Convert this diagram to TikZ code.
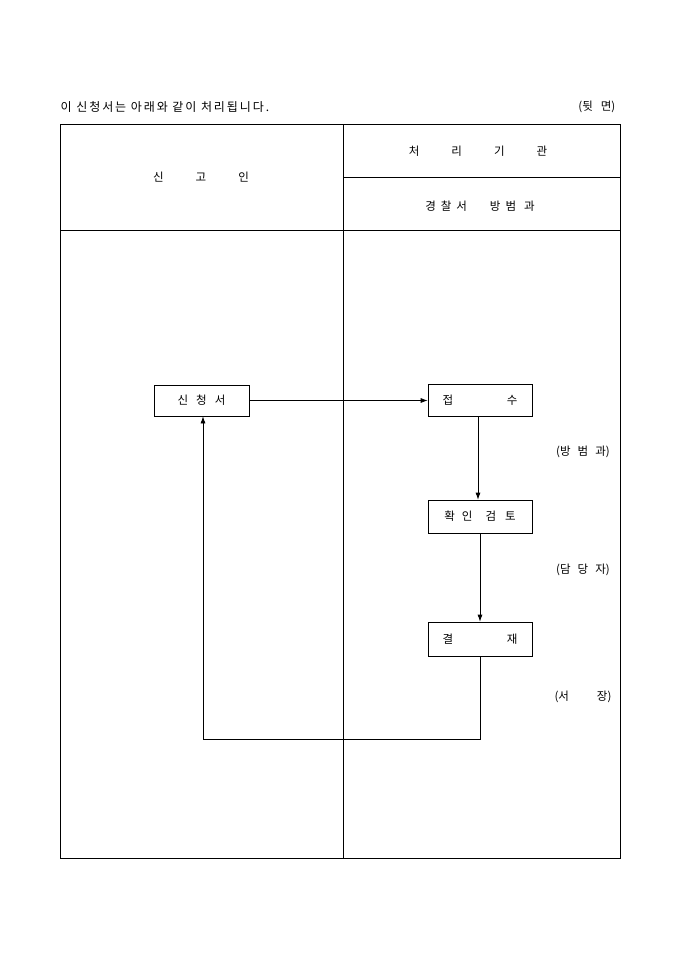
\documentclass[tikz,border=0pt]{standalone}
\usepackage{fontspec}
\setmainfont{Noto Sans CJK KR}
\newfontfamily\spaced[LetterSpace=16]{Noto Sans CJK KR}
\usetikzlibrary{arrows.meta}
\tikzset{
  box/.style={draw, minimum width=104pt, minimum height=32pt, inner sep=0pt},
  arr/.style={-{Latex[length=7pt,width=5pt]}}
}
\begin{document}
\begin{tikzpicture}[x=1pt, y=-1pt, line width=0.7pt, font=\fontsize{11.5}{13}\selectfont]
\useasboundingbox (0,0) rectangle (680,962);
% table
\draw (60,124) rectangle (620,858);
\draw (343,124) -- (343,858);
\draw (343,177) -- (620,177);
\draw (60,230) -- (620,230);
\node[anchor=west, font=\spaced\fontsize{12}{14}\selectfont] (title) at (57,107) {이 신청서는 아래와 같이 처리됩니다.};
\node[anchor=east] (side) at (619,107) {(뒷\hspace{8pt}면)};
\node (applicant) at (201,177) {신\hspace{32pt}고\hspace{32pt}인};
\node (office) at (478,151) {처\hspace{32pt}리\hspace{32pt}기\hspace{32pt}관};
\node (dept) at (480,206) {경\hspace{5pt}찰\hspace{5pt}서\hspace{23pt}방\hspace{5pt}범\hspace{8pt}과};
% flow
\node[box, minimum width=95pt, minimum height=31pt] (form) at (201.5,400.5) {신\hspace{8pt}청\hspace{8pt}서};
\node[box] (receive) at (480,400.5) {\begin{minipage}{75pt}접\hfill 수\end{minipage}};
\node[box, minimum height=33pt] (review) at (480,516.5) {확\hspace{7pt}인\hspace{13pt}검\hspace{9pt}토};
\node[box, minimum height=34pt] (approve) at (480,639) {\begin{minipage}{75pt}결\hfill 재\end{minipage}};
\node (l1) at (583,452) {(방\hspace{7pt}범\hspace{7pt}과)};
\node (l2) at (583,570) {(담\hspace{7pt}당\hspace{7pt}자)};
\node (l3) at (583,697) {(서\hspace{28pt}장)};
\draw[arr] (form.east) -- (receive.west);
\draw[arr] (receive.south) ++(-2,0) -- ([xshift=-2pt]review.north);
\draw[arr] (review.south) -- (approve.north);
\coordinate (turn) at (203,739);
\draw[arr] (approve.south) -- (approve.south |- turn) -- (turn) -- ([xshift=1.5pt]form.south);
\end{tikzpicture}
\end{document}
